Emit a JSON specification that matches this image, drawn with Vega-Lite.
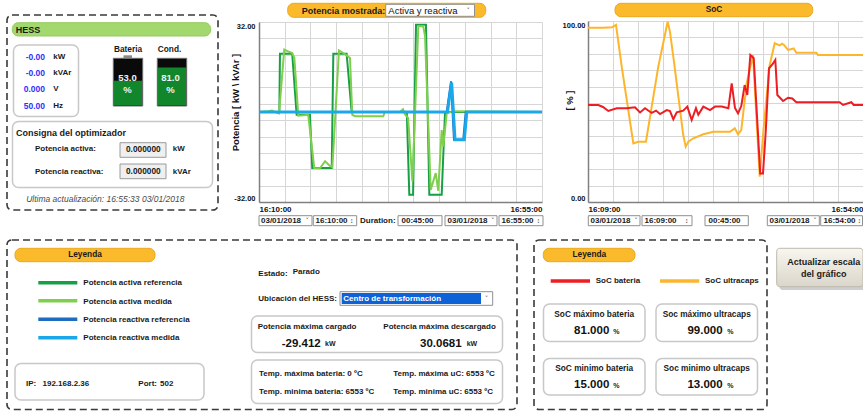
{
  "$schema": "https://vega.github.io/schema/vega-lite/v6.json",
  "width": 863,
  "height": 411,
  "padding": 0,
  "autosize": {"type": "none"},
  "background": "#ffffff",
  "config": {"view": {"stroke": null}, "font": "Liberation Sans"},
  "datasets": {
    "potencia": [
      {"series": "Potencia activa referencia", "time": "2018-01-03T16:10:00", "value": 0},
      {"series": "Potencia activa referencia", "time": "2018-01-03T16:13:14", "value": 0},
      {"series": "Potencia activa referencia", "time": "2018-01-03T16:13:20", "value": 20.7},
      {"series": "Potencia activa referencia", "time": "2018-01-03T16:15:17", "value": 20.7},
      {"series": "Potencia activa referencia", "time": "2018-01-03T16:15:59", "value": -1.0},
      {"series": "Potencia activa referencia", "time": "2018-01-03T16:18:06", "value": -1.0},
      {"series": "Potencia activa referencia", "time": "2018-01-03T16:18:28", "value": -19.9},
      {"series": "Potencia activa referencia", "time": "2018-01-03T16:21:34", "value": -19.9},
      {"series": "Potencia activa referencia", "time": "2018-01-03T16:21:49", "value": 20.7},
      {"series": "Potencia activa referencia", "time": "2018-01-03T16:23:56", "value": 20.7},
      {"series": "Potencia activa referencia", "time": "2018-01-03T16:24:44", "value": 0},
      {"series": "Potencia activa referencia", "time": "2018-01-03T16:33:30", "value": 0},
      {"series": "Potencia activa referencia", "time": "2018-01-03T16:33:54", "value": -29.4},
      {"series": "Potencia activa referencia", "time": "2018-01-03T16:34:30", "value": -29.4},
      {"series": "Potencia activa referencia", "time": "2018-01-03T16:34:58", "value": 31.0},
      {"series": "Potencia activa referencia", "time": "2018-01-03T16:36:33", "value": 31.0},
      {"series": "Potencia activa referencia", "time": "2018-01-03T16:37:05", "value": -29.4},
      {"series": "Potencia activa referencia", "time": "2018-01-03T16:39:03", "value": -29.4},
      {"series": "Potencia activa referencia", "time": "2018-01-03T16:39:35", "value": 0},
      {"series": "Potencia activa referencia", "time": "2018-01-03T16:55:00", "value": 0},
      {"series": "Potencia activa medida", "time": "2018-01-03T16:10:00", "value": 0},
      {"series": "Potencia activa medida", "time": "2018-01-03T16:11:26", "value": 0.3},
      {"series": "Potencia activa medida", "time": "2018-01-03T16:12:04", "value": 0.5},
      {"series": "Potencia activa medida", "time": "2018-01-03T16:12:52", "value": -0.3},
      {"series": "Potencia activa medida", "time": "2018-01-03T16:13:11", "value": -0.5},
      {"series": "Potencia activa medida", "time": "2018-01-03T16:14:01", "value": 22.2},
      {"series": "Potencia activa medida", "time": "2018-01-03T16:14:40", "value": 21.5},
      {"series": "Potencia activa medida", "time": "2018-01-03T16:15:15", "value": 21.0},
      {"series": "Potencia activa medida", "time": "2018-01-03T16:15:37", "value": 19.4},
      {"series": "Potencia activa medida", "time": "2018-01-03T16:16:15", "value": -1.3},
      {"series": "Potencia activa medida", "time": "2018-01-03T16:17:50", "value": -1.0},
      {"series": "Potencia activa medida", "time": "2018-01-03T16:18:47", "value": -19.9},
      {"series": "Potencia activa medida", "time": "2018-01-03T16:19:42", "value": -20.0},
      {"series": "Potencia activa medida", "time": "2018-01-03T16:20:30", "value": -17.5},
      {"series": "Potencia activa medida", "time": "2018-01-03T16:21:17", "value": -19.2},
      {"series": "Potencia activa medida", "time": "2018-01-03T16:21:40", "value": -19.6},
      {"series": "Potencia activa medida", "time": "2018-01-03T16:22:43", "value": 21.9},
      {"series": "Potencia activa medida", "time": "2018-01-03T16:23:31", "value": 20.8},
      {"series": "Potencia activa medida", "time": "2018-01-03T16:24:28", "value": 19.2},
      {"series": "Potencia activa medida", "time": "2018-01-03T16:24:50", "value": -1.0},
      {"series": "Potencia activa medida", "time": "2018-01-03T16:25:16", "value": -1.5},
      {"series": "Potencia activa medida", "time": "2018-01-03T16:29:46", "value": -1.5},
      {"series": "Potencia activa medida", "time": "2018-01-03T16:30:00", "value": 0},
      {"series": "Potencia activa medida", "time": "2018-01-03T16:32:25", "value": 0},
      {"series": "Potencia activa medida", "time": "2018-01-03T16:32:54", "value": 1.0},
      {"series": "Potencia activa medida", "time": "2018-01-03T16:33:12", "value": -0.8},
      {"series": "Potencia activa medida", "time": "2018-01-03T16:33:42", "value": -2.1},
      {"series": "Potencia activa medida", "time": "2018-01-03T16:34:24", "value": -24.7},
      {"series": "Potencia activa medida", "time": "2018-01-03T16:35:20", "value": 30.5},
      {"series": "Potencia activa medida", "time": "2018-01-03T16:36:07", "value": 30.5},
      {"series": "Potencia activa medida", "time": "2018-01-03T16:36:24", "value": 27.0},
      {"series": "Potencia activa medida", "time": "2018-01-03T16:37:18", "value": -27.7},
      {"series": "Potencia activa medida", "time": "2018-01-03T16:38:06", "value": -21.7},
      {"series": "Potencia activa medida", "time": "2018-01-03T16:38:30", "value": -28.0},
      {"series": "Potencia activa medida", "time": "2018-01-03T16:39:03", "value": -6.4},
      {"series": "Potencia activa medida", "time": "2018-01-03T16:39:18", "value": -12.3},
      {"series": "Potencia activa medida", "time": "2018-01-03T16:39:51", "value": -0.5},
      {"series": "Potencia activa medida", "time": "2018-01-03T16:41:00", "value": 0.3},
      {"series": "Potencia activa medida", "time": "2018-01-03T16:55:00", "value": 0},
      {"series": "Potencia reactiva referencia", "time": "2018-01-03T16:10:00", "value": 0},
      {"series": "Potencia reactiva referencia", "time": "2018-01-03T16:39:51", "value": 0},
      {"series": "Potencia reactiva referencia", "time": "2018-01-03T16:40:32", "value": 10.9},
      {"series": "Potencia reactiva referencia", "time": "2018-01-03T16:41:00", "value": -9.85},
      {"series": "Potencia reactiva referencia", "time": "2018-01-03T16:42:29", "value": -9.85},
      {"series": "Potencia reactiva referencia", "time": "2018-01-03T16:42:52", "value": 0},
      {"series": "Potencia reactiva referencia", "time": "2018-01-03T16:55:00", "value": 0},
      {"series": "Potencia reactiva medida", "time": "2018-01-03T16:10:00", "value": 0},
      {"series": "Potencia reactiva medida", "time": "2018-01-03T16:39:58", "value": 0},
      {"series": "Potencia reactiva medida", "time": "2018-01-03T16:40:38", "value": 10.5},
      {"series": "Potencia reactiva medida", "time": "2018-01-03T16:41:10", "value": -9.85},
      {"series": "Potencia reactiva medida", "time": "2018-01-03T16:42:39", "value": -9.85},
      {"series": "Potencia reactiva medida", "time": "2018-01-03T16:43:02", "value": 0},
      {"series": "Potencia reactiva medida", "time": "2018-01-03T16:55:00", "value": 0}
    ],
    "soc": [
      {"series": "SoC ultracaps", "time": "2018-01-03T16:09:00", "soc": 96.3},
      {"series": "SoC ultracaps", "time": "2018-01-03T16:11:27", "soc": 96.3},
      {"series": "SoC ultracaps", "time": "2018-01-03T16:12:56", "soc": 96.5},
      {"series": "SoC ultracaps", "time": "2018-01-03T16:13:35", "soc": 97.8},
      {"series": "SoC ultracaps", "time": "2018-01-03T16:14:31", "soc": 74.8},
      {"series": "SoC ultracaps", "time": "2018-01-03T16:16:25", "soc": 32.4},
      {"series": "SoC ultracaps", "time": "2018-01-03T16:17:14", "soc": 33.3},
      {"series": "SoC ultracaps", "time": "2018-01-03T16:18:29", "soc": 33.3},
      {"series": "SoC ultracaps", "time": "2018-01-03T16:20:30", "soc": 74.8},
      {"series": "SoC ultracaps", "time": "2018-01-03T16:22:02", "soc": 99.6},
      {"series": "SoC ultracaps", "time": "2018-01-03T16:22:25", "soc": 94.0},
      {"series": "SoC ultracaps", "time": "2018-01-03T16:23:04", "soc": 77.5},
      {"series": "SoC ultracaps", "time": "2018-01-03T16:24:35", "soc": 37.0},
      {"series": "SoC ultracaps", "time": "2018-01-03T16:24:59", "soc": 30.6},
      {"series": "SoC ultracaps", "time": "2018-01-03T16:25:25", "soc": 33.3},
      {"series": "SoC ultracaps", "time": "2018-01-03T16:26:14", "soc": 35.2},
      {"series": "SoC ultracaps", "time": "2018-01-03T16:27:52", "soc": 37.4},
      {"series": "SoC ultracaps", "time": "2018-01-03T16:29:30", "soc": 38.8},
      {"series": "SoC ultracaps", "time": "2018-01-03T16:32:14", "soc": 38.8},
      {"series": "SoC ultracaps", "time": "2018-01-03T16:33:01", "soc": 40.7},
      {"series": "SoC ultracaps", "time": "2018-01-03T16:33:33", "soc": 37.4},
      {"series": "SoC ultracaps", "time": "2018-01-03T16:34:05", "soc": 39.8},
      {"series": "SoC ultracaps", "time": "2018-01-03T16:34:58", "soc": 65.6},
      {"series": "SoC ultracaps", "time": "2018-01-03T16:36:00", "soc": 81.2},
      {"series": "SoC ultracaps", "time": "2018-01-03T16:37:06", "soc": 14.0},
      {"series": "SoC ultracaps", "time": "2018-01-03T16:37:43", "soc": 40.0},
      {"series": "SoC ultracaps", "time": "2018-01-03T16:38:44", "soc": 75.7},
      {"series": "SoC ultracaps", "time": "2018-01-03T16:39:33", "soc": 87.7},
      {"series": "SoC ultracaps", "time": "2018-01-03T16:40:22", "soc": 86.5},
      {"series": "SoC ultracaps", "time": "2018-01-03T16:40:45", "soc": 87.5},
      {"series": "SoC ultracaps", "time": "2018-01-03T16:41:04", "soc": 86.8},
      {"series": "SoC ultracaps", "time": "2018-01-03T16:41:44", "soc": 84.0},
      {"series": "SoC ultracaps", "time": "2018-01-03T16:42:40", "soc": 84.8},
      {"series": "SoC ultracaps", "time": "2018-01-03T16:43:05", "soc": 82.5},
      {"series": "SoC ultracaps", "time": "2018-01-03T16:46:22", "soc": 82.5},
      {"series": "SoC ultracaps", "time": "2018-01-03T16:46:38", "soc": 81.2},
      {"series": "SoC ultracaps", "time": "2018-01-03T16:54:00", "soc": 81.2},
      {"series": "SoC bateria", "time": "2018-01-03T16:09:00", "soc": 53.6},
      {"series": "SoC bateria", "time": "2018-01-03T16:10:41", "soc": 53.6},
      {"series": "SoC bateria", "time": "2018-01-03T16:11:27", "soc": 52.5},
      {"series": "SoC bateria", "time": "2018-01-03T16:12:19", "soc": 50.3},
      {"series": "SoC bateria", "time": "2018-01-03T16:13:42", "soc": 51.8},
      {"series": "SoC bateria", "time": "2018-01-03T16:15:20", "soc": 51.8},
      {"series": "SoC bateria", "time": "2018-01-03T16:16:41", "soc": 52.3},
      {"series": "SoC bateria", "time": "2018-01-03T16:17:31", "soc": 49.5},
      {"series": "SoC bateria", "time": "2018-01-03T16:18:20", "soc": 51.8},
      {"series": "SoC bateria", "time": "2018-01-03T16:19:25", "soc": 49.2},
      {"series": "SoC bateria", "time": "2018-01-03T16:20:08", "soc": 50.5},
      {"series": "SoC bateria", "time": "2018-01-03T16:20:47", "soc": 48.6},
      {"series": "SoC bateria", "time": "2018-01-03T16:21:53", "soc": 50.8},
      {"series": "SoC bateria", "time": "2018-01-03T16:22:25", "soc": 50.2},
      {"series": "SoC bateria", "time": "2018-01-03T16:22:58", "soc": 45.7},
      {"series": "SoC bateria", "time": "2018-01-03T16:23:31", "soc": 49.5},
      {"series": "SoC bateria", "time": "2018-01-03T16:24:35", "soc": 50.5},
      {"series": "SoC bateria", "time": "2018-01-03T16:25:15", "soc": 52.7},
      {"series": "SoC bateria", "time": "2018-01-03T16:25:58", "soc": 45.3},
      {"series": "SoC bateria", "time": "2018-01-03T16:26:40", "soc": 51.8},
      {"series": "SoC bateria", "time": "2018-01-03T16:27:03", "soc": 48.2},
      {"series": "SoC bateria", "time": "2018-01-03T16:27:52", "soc": 52.7},
      {"series": "SoC bateria", "time": "2018-01-03T16:28:58", "soc": 50.8},
      {"series": "SoC bateria", "time": "2018-01-03T16:29:47", "soc": 52.7},
      {"series": "SoC bateria", "time": "2018-01-03T16:30:53", "soc": 52.7},
      {"series": "SoC bateria", "time": "2018-01-03T16:31:58", "soc": 51.8},
      {"series": "SoC bateria", "time": "2018-01-03T16:32:31", "soc": 65.6},
      {"series": "SoC bateria", "time": "2018-01-03T16:33:03", "soc": 52.0},
      {"series": "SoC bateria", "time": "2018-01-03T16:33:33", "soc": 49.0},
      {"series": "SoC bateria", "time": "2018-01-03T16:34:05", "soc": 53.0},
      {"series": "SoC bateria", "time": "2018-01-03T16:34:38", "soc": 64.6},
      {"series": "SoC bateria", "time": "2018-01-03T16:35:04", "soc": 59.1},
      {"series": "SoC bateria", "time": "2018-01-03T16:35:34", "soc": 81.2},
      {"series": "SoC bateria", "time": "2018-01-03T16:36:07", "soc": 79.4},
      {"series": "SoC bateria", "time": "2018-01-03T16:37:11", "soc": 15.8},
      {"series": "SoC bateria", "time": "2018-01-03T16:37:38", "soc": 15.8},
      {"series": "SoC bateria", "time": "2018-01-03T16:38:05", "soc": 38.8},
      {"series": "SoC bateria", "time": "2018-01-03T16:38:37", "soc": 73.9},
      {"series": "SoC bateria", "time": "2018-01-03T16:39:10", "soc": 76.0},
      {"series": "SoC bateria", "time": "2018-01-03T16:39:39", "soc": 78.5},
      {"series": "SoC bateria", "time": "2018-01-03T16:39:59", "soc": 59.1},
      {"series": "SoC bateria", "time": "2018-01-03T16:40:55", "soc": 55.8},
      {"series": "SoC bateria", "time": "2018-01-03T16:41:44", "soc": 57.6},
      {"series": "SoC bateria", "time": "2018-01-03T16:42:26", "soc": 57.2},
      {"series": "SoC bateria", "time": "2018-01-03T16:43:05", "soc": 55.1},
      {"series": "SoC bateria", "time": "2018-01-03T16:50:11", "soc": 55.1},
      {"series": "SoC bateria", "time": "2018-01-03T16:50:44", "soc": 53.6},
      {"series": "SoC bateria", "time": "2018-01-03T16:52:05", "soc": 55.1},
      {"series": "SoC bateria", "time": "2018-01-03T16:52:29", "soc": 53.6},
      {"series": "SoC bateria", "time": "2018-01-03T16:54:00", "soc": 53.6}
    ],
    "legend_lines": [
      {"series": "Potencia activa referencia", "x": 38.3, "x2": 77.3, "y": 282.7},
      {"series": "Potencia activa medida", "x": 38.3, "x2": 77.3, "y": 300.7},
      {"series": "Potencia reactiva referencia", "x": 38.3, "x2": 77.3, "y": 319.3},
      {"series": "Potencia reactiva medida", "x": 38.3, "x2": 77.3, "y": 337.7},
      {"series": "SoC bateria", "x": 550.7, "x2": 590, "y": 281},
      {"series": "SoC ultracaps", "x": 660, "x2": 699.3, "y": 281}
    ],
    "dashed_frames": [
      {"x": 7, "x2": 218, "y": 15, "y2": 210},
      {"x": 7, "x2": 517, "y": 240, "y2": 409.5},
      {"x": 534, "x2": 767, "y": 240, "y2": 409.5}
    ],
    "round_boxes": [
      {"x": 13.5, "x2": 78.5, "y": 45, "y2": 116.5},
      {"x": 12.5, "x2": 212.5, "y": 121.5, "y2": 187.5},
      {"x": 15, "x2": 204, "y": 363.5, "y2": 400},
      {"x": 251.5, "x2": 502.5, "y": 316, "y2": 352.5},
      {"x": 251.5, "x2": 502.5, "y": 360, "y2": 403.5},
      {"x": 543.5, "x2": 645, "y": 304, "y2": 341.5},
      {"x": 656, "x2": 757.5, "y": 304, "y2": 341.5},
      {"x": 543.5, "x2": 645, "y": 358.5, "y2": 395},
      {"x": 656, "x2": 757.5, "y": 358.5, "y2": 395}
    ],
    "orange_pills": [
      {"x": 287.7, "x2": 485.7, "y": 3.3, "y2": 17.3},
      {"x": 615, "x2": 812.7, "y": 3.3, "y2": 16.7},
      {"x": 15, "x2": 155, "y": 248.3, "y2": 261.7},
      {"x": 543.3, "x2": 635, "y": 248.3, "y2": 261.7}
    ],
    "green_pills": [
      {"x": 12.3, "x2": 210.7, "y": 22.7, "y2": 36}
    ],
    "gray_fields": [
      {"x": 120, "x2": 166, "y": 142.7, "y2": 157.3},
      {"x": 120, "x2": 166, "y": 164, "y2": 178.7}
    ],
    "white_fields": [
      {"x": 385.7, "x2": 474.5, "y": 4.3, "y2": 16.3},
      {"x": 340, "x2": 492.7, "y": 291.7, "y2": 305.3},
      {"x": 259, "x2": 312, "y": 215.7, "y2": 225.7},
      {"x": 313.3, "x2": 356.7, "y": 215.7, "y2": 225.7},
      {"x": 398, "x2": 442, "y": 215.7, "y2": 225.7},
      {"x": 445, "x2": 497, "y": 215.7, "y2": 225.7},
      {"x": 499, "x2": 543, "y": 215.7, "y2": 225.7},
      {"x": 588.3, "x2": 640, "y": 215.7, "y2": 225.7},
      {"x": 642, "x2": 692, "y": 215.7, "y2": 225.7},
      {"x": 705, "x2": 748.3, "y": 215.7, "y2": 225.7},
      {"x": 767.3, "x2": 819.3, "y": 215.7, "y2": 225.7},
      {"x": 820.7, "x2": 862.5, "y": 215.7, "y2": 225.7}
    ],
    "selection_fill": [
      {"x": 341.7, "x2": 481, "y": 293, "y2": 304}
    ],
    "battery_case": [
      {"x": 113.3, "x2": 142.7, "y": 58.3, "y2": 106},
      {"x": 157.3, "x2": 186.7, "y": 58.3, "y2": 106}
    ],
    "battery_charge": [
      {"x": 114, "x2": 142, "y": 80.7, "y2": 105.3},
      {"x": 158, "x2": 186, "y": 67.4, "y2": 105.3}
    ],
    "battery_cap": [
      {"x": 123.5, "x2": 132, "y": 55.3, "y2": 58.3}
    ],
    "button_shadow": [
      {"x": 779.5, "x2": 866, "y": 251, "y2": 290}
    ],
    "button": [
      {"x": 776.7, "x2": 863, "y": 248.3, "y2": 286.7}
    ],
    "labels_bold8": [
      {"text": "kW", "x": 53.3, "y": 57},
      {"text": "kVAr", "x": 53.3, "y": 72.5},
      {"text": "V", "x": 53.3, "y": 89.3},
      {"text": "Hz", "x": 53.3, "y": 106},
      {"text": "Potencia activa:", "x": 35, "y": 149.3},
      {"text": "Potencia reactiva:", "x": 35, "y": 171.7},
      {"text": "kW", "x": 172.7, "y": 149.3},
      {"text": "kVAr", "x": 172.7, "y": 171.7},
      {"text": "Potencia activa referencia", "x": 83.3, "y": 283.3},
      {"text": "Potencia activa medida", "x": 83.3, "y": 301.5},
      {"text": "Potencia reactiva referencia", "x": 83.3, "y": 320},
      {"text": "Potencia reactiva medida", "x": 83.3, "y": 338.3},
      {"text": "IP:", "x": 26, "y": 383.5},
      {"text": "192.168.2.36", "x": 42.5, "y": 383.5},
      {"text": "Port:", "x": 138.3, "y": 383.5},
      {"text": "502", "x": 160, "y": 383.5},
      {"text": "Estado:", "x": 258.3, "y": 273.5},
      {"text": "Parado", "x": 292.7, "y": 272.3},
      {"text": "Ubicación del HESS:", "x": 258.3, "y": 298.5},
      {"text": "Potencia máxima cargado", "x": 257.7, "y": 326.7},
      {"text": "Potencia máxima descargado", "x": 383.3, "y": 326.7},
      {"text": "Temp. máxima bateria: 0 ºC", "x": 259, "y": 374.3},
      {"text": "Temp. máxima uC: 6553 ºC", "x": 393.3, "y": 374.3},
      {"text": "Temp. minima bateria:  6553 ºC", "x": 259, "y": 392.3},
      {"text": "Temp. minima uC: 6553 ºC", "x": 393.3, "y": 392.3},
      {"text": "SoC bateria", "x": 595.7, "y": 281.3},
      {"text": "SoC ultracaps", "x": 705, "y": 281.3},
      {"text": "03/01/2018", "x": 261, "y": 220.8},
      {"text": "16:10:00", "x": 315.5, "y": 220.8},
      {"text": "Duration:", "x": 360, "y": 220.8},
      {"text": "00:45:00", "x": 401.5, "y": 220.8},
      {"text": "03/01/2018", "x": 447.5, "y": 220.8},
      {"text": "16:55:00", "x": 501.5, "y": 220.8},
      {"text": "03/01/2018", "x": 590.5, "y": 220.8},
      {"text": "16:09:00", "x": 644.5, "y": 220.8},
      {"text": "00:45:00", "x": 708.5, "y": 220.8},
      {"text": "03/01/2018", "x": 769.5, "y": 220.8},
      {"text": "16:54:00", "x": 823.5, "y": 220.8}
    ],
    "labels_bold9": [
      {"text": "HESS", "x": 15.7, "y": 29.5},
      {"text": "Consigna del optimizador", "x": 16, "y": 132.7},
      {"text": "Potencia mostrada:", "x": 301.7, "y": 10.5}
    ],
    "labels_regular": [
      {"text": "Activa y reactiva", "x": 388.3, "y": 10.5}
    ],
    "labels_white_left": [
      {"text": "Centro de transformación", "x": 343.3, "y": 298.5}
    ],
    "labels_blue": [
      {"text": "-0.00", "x": 45, "y": 57},
      {"text": "-0.00", "x": 45, "y": 72.5},
      {"text": "0.000", "x": 45, "y": 89.3},
      {"text": "50.00", "x": 45, "y": 106}
    ],
    "labels_center8": [
      {"text": "Bateria", "x": 128, "y": 50},
      {"text": "Cond.", "x": 169.5, "y": 50},
      {"text": "Leyenda", "x": 85, "y": 255.2},
      {"text": "Leyenda", "x": 589.3, "y": 255.2},
      {"text": "SoC", "x": 714, "y": 10.3},
      {"text": "SoC máximo bateria", "x": 594.2, "y": 315},
      {"text": "Soc máximo ultracaps", "x": 706.7, "y": 315},
      {"text": "SoC minimo bateria", "x": 594.2, "y": 368.5},
      {"text": "Soc minimo ultracaps", "x": 706.7, "y": 368.5},
      {"text": "0.000000", "x": 143.3, "y": 150},
      {"text": "0.000000", "x": 143.3, "y": 171.5}
    ],
    "labels_button": [
      {"text": "Actualizar escala", "x": 823.7, "y": 262.3},
      {"text": "del gráfico", "x": 823.7, "y": 273.5}
    ],
    "labels_white_center": [
      {"text": "53.0", "x": 127.5, "y": 77.5},
      {"text": "%", "x": 127.5, "y": 90},
      {"text": "81.0", "x": 170.5, "y": 77.5},
      {"text": "%", "x": 170.5, "y": 90}
    ],
    "labels_big": [
      {"text": "-29.412", "x": 301.2, "y": 343.5},
      {"text": "30.0681", "x": 440.8, "y": 343.5},
      {"text": "81.000", "x": 591.7, "y": 330.8},
      {"text": "99.000", "x": 705, "y": 330.8},
      {"text": "15.000", "x": 591.7, "y": 385},
      {"text": "13.000", "x": 705, "y": 385}
    ],
    "labels_units_small": [
      {"text": "kW", "x": 325, "y": 344.3},
      {"text": "kW", "x": 466.7, "y": 344.3},
      {"text": "%", "x": 613.3, "y": 331.5},
      {"text": "%", "x": 727.3, "y": 331.5},
      {"text": "%", "x": 613.3, "y": 385.7},
      {"text": "%", "x": 727.3, "y": 385.7}
    ],
    "labels_italic": [
      {"text": "Ultima actualización: 16:55:33 03/01/2018", "x": 105.3, "y": 199}
    ],
    "glyphs": [
      {"text": "˅", "x": 307.3, "y": 221},
      {"text": "˅", "x": 492.7, "y": 221},
      {"text": "˅", "x": 636, "y": 221},
      {"text": "˅", "x": 815, "y": 221},
      {"text": "˅", "x": 468.3, "y": 10.8},
      {"text": "˅", "x": 486.5, "y": 298.8},
      {"text": ":", "x": 351.7, "y": 220.5},
      {"text": ":", "x": 538.3, "y": 220.5},
      {"text": ":", "x": 686.7, "y": 220.5},
      {"text": ":", "x": 859.5, "y": 220.5}
    ]
  },
  "resolve": {"scale": {"x": "independent", "y": "independent"}},
  "layer": [
    {
      "encoding": {
        "x": {"field": "x", "type": "quantitative", "scale": {"domain": [0, 863], "nice": false, "zero": false}, "axis": null},
        "y": {"field": "y", "type": "quantitative", "scale": {"domain": [0, 411], "reverse": true, "nice": false, "zero": false}, "axis": null}
      },
      "layer": [
        {"data": {"name": "dashed_frames"}, "mark": {"type": "rect", "filled": false, "color": "#3a3a3a", "strokeWidth": 1.6, "strokeDash": [7, 4], "cornerRadius": 5}, "encoding": {"x2": {"field": "x2"}, "y2": {"field": "y2"}}},
        {"data": {"name": "round_boxes"}, "mark": {"type": "rect", "fill": "#ffffff", "stroke": "#c8c8c8", "strokeWidth": 1.5, "cornerRadius": 6}, "encoding": {"x2": {"field": "x2"}, "y2": {"field": "y2"}}},
        {"data": {"name": "orange_pills"}, "mark": {"type": "rect", "fill": "#fbb92c", "stroke": "#eaa81c", "strokeWidth": 1, "cornerRadius": 6}, "encoding": {"x2": {"field": "x2"}, "y2": {"field": "y2"}}},
        {"data": {"name": "green_pills"}, "mark": {"type": "rect", "fill": "#a3d86f", "stroke": "#93ca60", "strokeWidth": 1, "cornerRadius": 6}, "encoding": {"x2": {"field": "x2"}, "y2": {"field": "y2"}}},
        {"data": {"name": "gray_fields"}, "mark": {"type": "rect", "fill": "#efefef", "stroke": "#9a9a9a", "strokeWidth": 1}, "encoding": {"x2": {"field": "x2"}, "y2": {"field": "y2"}}},
        {"data": {"name": "white_fields"}, "mark": {"type": "rect", "fill": "#ffffff", "stroke": "#8f8f8f", "strokeWidth": 1}, "encoding": {"x2": {"field": "x2"}, "y2": {"field": "y2"}}},
        {"data": {"name": "selection_fill"}, "mark": {"type": "rect", "fill": "#0d62d8"}, "encoding": {"x2": {"field": "x2"}, "y2": {"field": "y2"}}},
        {"data": {"name": "battery_case"}, "mark": {"type": "rect", "fill": "#0a0a0a", "stroke": "#6d6d6d", "strokeWidth": 1}, "encoding": {"x2": {"field": "x2"}, "y2": {"field": "y2"}}},
        {"data": {"name": "battery_charge"}, "mark": {"type": "rect", "fill": "#11862a"}, "encoding": {"x2": {"field": "x2"}, "y2": {"field": "y2"}}},
        {"data": {"name": "battery_cap"}, "mark": {"type": "rect", "fill": "#8a8a8a"}, "encoding": {"x2": {"field": "x2"}, "y2": {"field": "y2"}}},
        {"data": {"name": "button_shadow"}, "mark": {"type": "rect", "fill": "#b9b9b9", "opacity": 0.7, "cornerRadius": 3}, "encoding": {"x2": {"field": "x2"}, "y2": {"field": "y2"}}},
        {"data": {"name": "button"}, "mark": {"type": "rect", "cornerRadius": 3, "stroke": "#bdb9ae", "strokeWidth": 1, "fill": {"gradient": "linear", "x1": 0, "y1": 0, "x2": 0, "y2": 1, "stops": [{"offset": 0, "color": "#f8f6ef"}, {"offset": 1, "color": "#dad6ca"}]}}, "encoding": {"x2": {"field": "x2"}, "y2": {"field": "y2"}}},
        {"data": {"name": "legend_lines"}, "mark": {"type": "rule", "strokeWidth": 3.5, "strokeCap": "butt"}, "encoding": {"x2": {"field": "x2"}, "color": {"field": "series", "type": "nominal", "scale": {"domain": ["Potencia activa referencia", "Potencia activa medida", "Potencia reactiva referencia", "Potencia reactiva medida", "SoC bateria", "SoC ultracaps"], "range": ["#16a045", "#80cf4c", "#1d6cc2", "#1aa8ea", "#ee1d23", "#fdb62c"]}, "legend": null}}},
        {"data": {"name": "labels_bold8"}, "mark": {"type": "text", "align": "left", "baseline": "middle", "font": "Liberation Sans", "fontSize": 8, "fontWeight": "bold", "color": "#1a1a1a"}, "encoding": {"text": {"field": "text"}}},
        {"data": {"name": "labels_bold9"}, "mark": {"type": "text", "align": "left", "baseline": "middle", "font": "Liberation Sans", "fontSize": 9, "fontWeight": "bold", "color": "#1a1a1a"}, "encoding": {"text": {"field": "text"}}},
        {"data": {"name": "labels_regular"}, "mark": {"type": "text", "align": "left", "baseline": "middle", "font": "Liberation Sans", "fontSize": 9.5, "fontWeight": "normal", "color": "#111111"}, "encoding": {"text": {"field": "text"}}},
        {"data": {"name": "labels_white_left"}, "mark": {"type": "text", "align": "left", "baseline": "middle", "font": "Liberation Sans", "fontSize": 8, "fontWeight": "bold", "color": "#ffffff"}, "encoding": {"text": {"field": "text"}}},
        {"data": {"name": "labels_blue"}, "mark": {"type": "text", "align": "right", "baseline": "middle", "font": "Liberation Sans", "fontSize": 8.5, "fontWeight": "bold", "color": "#2f2fff"}, "encoding": {"text": {"field": "text"}}},
        {"data": {"name": "labels_center8"}, "mark": {"type": "text", "align": "center", "baseline": "middle", "font": "Liberation Sans", "fontSize": 8.3, "fontWeight": "bold", "color": "#1a1a1a"}, "encoding": {"text": {"field": "text"}}},
        {"data": {"name": "labels_button"}, "mark": {"type": "text", "align": "center", "baseline": "middle", "font": "Liberation Sans", "fontSize": 9, "fontWeight": "bold", "color": "#1a1a1a"}, "encoding": {"text": {"field": "text"}}},
        {"data": {"name": "labels_white_center"}, "mark": {"type": "text", "align": "center", "baseline": "middle", "font": "Liberation Sans", "fontSize": 9.5, "fontWeight": "bold", "color": "#f2f2f2"}, "encoding": {"text": {"field": "text"}}},
        {"data": {"name": "labels_big"}, "mark": {"type": "text", "align": "center", "baseline": "middle", "font": "Liberation Sans", "fontSize": 11.5, "fontWeight": "bold", "color": "#111111"}, "encoding": {"text": {"field": "text"}}},
        {"data": {"name": "labels_units_small"}, "mark": {"type": "text", "align": "left", "baseline": "middle", "font": "Liberation Sans", "fontSize": 7, "fontWeight": "bold", "color": "#1a1a1a"}, "encoding": {"text": {"field": "text"}}},
        {"data": {"name": "labels_italic"}, "mark": {"type": "text", "align": "center", "baseline": "middle", "font": "Liberation Sans", "fontSize": 8.5, "fontStyle": "italic", "color": "#4a4a4a"}, "encoding": {"text": {"field": "text"}}},
        {"data": {"name": "glyphs"}, "mark": {"type": "text", "align": "center", "baseline": "middle", "font": "DejaVu Sans", "fontSize": 7, "fontWeight": "bold", "color": "#777777"}, "encoding": {"text": {"field": "text"}}}
      ]
    },
    {
      "data": {"name": "potencia"},
      "encoding": {
        "x": {
          "field": "time", "type": "temporal",
          "scale": {"domain": [{"year": 2018, "month": 1, "date": 3, "hours": 16, "minutes": 10}, {"year": 2018, "month": 1, "date": 3, "hours": 16, "minutes": 55}], "range": [259, 542], "nice": false},
          "axis": {
            "orient": "bottom", "offset": -209,
            "values": [
              {"year": 2018, "month": 1, "date": 3, "hours": 16, "minutes": 10, "seconds": 0},
              {"year": 2018, "month": 1, "date": 3, "hours": 16, "minutes": 14, "seconds": 5, "milliseconds": 455},
              {"year": 2018, "month": 1, "date": 3, "hours": 16, "minutes": 18, "seconds": 10, "milliseconds": 909},
              {"year": 2018, "month": 1, "date": 3, "hours": 16, "minutes": 22, "seconds": 16, "milliseconds": 364},
              {"year": 2018, "month": 1, "date": 3, "hours": 16, "minutes": 26, "seconds": 21, "milliseconds": 818},
              {"year": 2018, "month": 1, "date": 3, "hours": 16, "minutes": 30, "seconds": 27, "milliseconds": 273},
              {"year": 2018, "month": 1, "date": 3, "hours": 16, "minutes": 34, "seconds": 32, "milliseconds": 727},
              {"year": 2018, "month": 1, "date": 3, "hours": 16, "minutes": 38, "seconds": 38, "milliseconds": 182},
              {"year": 2018, "month": 1, "date": 3, "hours": 16, "minutes": 42, "seconds": 43, "milliseconds": 636},
              {"year": 2018, "month": 1, "date": 3, "hours": 16, "minutes": 46, "seconds": 49, "milliseconds": 91},
              {"year": 2018, "month": 1, "date": 3, "hours": 16, "minutes": 50, "seconds": 54, "milliseconds": 545},
              {"year": 2018, "month": 1, "date": 3, "hours": 16, "minutes": 55, "seconds": 0}
            ],
            "grid": false,
            "ticks": true, "tickSize": -180, "tickColor": "#d6d6d6", "tickWidth": 1,
            "domainColor": "#808080", "domainWidth": 1.5,
            "labelExpr": "datum.index == 0 || datum.index == 1 ? timeFormat(datum.value, '%H:%M:%S') : ''",
            "labelFlush": true, "labelOverlap": false, "labelBound": false, "labelPadding": 183,
            "labelFont": "Liberation Sans", "labelFontSize": 8, "labelFontWeight": "bold", "labelColor": "#111111",
            "title": null
          }
        },
        "y": {
          "field": "value", "type": "quantitative",
          "scale": {"domain": [-32, 32], "range": [202, 22], "nice": false, "zero": false},
          "axis": {
            "orient": "left", "offset": -259,
            "values": [-32, -26.1818, -20.3636, -14.5455, -8.7273, -2.9091, 2.9091, 8.7273, 14.5455, 20.3636, 26.1818, 32],
            "grid": true, "gridColor": "#d6d6d6", "gridWidth": 1,
            "ticks": false, "tickSize": 0,
            "domainColor": "#808080", "domainWidth": 1.5,
            "labelExpr": "datum.index == 0 || datum.index == 1 ? (datum.value < 0 ? '-' : '') + format(abs(datum.value), '.2f') : ''",
            "labelFlush": true, "labelOverlap": false, "labelBound": false, "labelPadding": 4,
            "labelFont": "Liberation Sans", "labelFontSize": 7.5, "labelFontWeight": "bold", "labelColor": "#111111",
            "title": "Potencia [ kW \\ kVAr ]", "titleX": -24, "titleY": 102, "titleAngle": -90, "titleAlign": "center", "titleBaseline": "middle",
            "titleFont": "Liberation Sans", "titleFontSize": 9.5, "titleFontWeight": "bold", "titleColor": "#111111"
          }
        },
        "color": {"field": "series", "type": "nominal", "scale": {"domain": ["Potencia activa referencia", "Potencia activa medida", "Potencia reactiva referencia", "Potencia reactiva medida", "SoC bateria", "SoC ultracaps"], "range": ["#16a045", "#80cf4c", "#1d6cc2", "#1aa8ea", "#ee1d23", "#fdb62c"]}, "legend": null}
      },
      "layer": [
        {"transform": [{"filter": "datum.series != 'Potencia reactiva medida'"}], "mark": {"type": "line", "strokeWidth": 2}},
        {"transform": [{"filter": "datum.series == 'Potencia reactiva medida'"}], "mark": {"type": "line", "strokeWidth": 3}}
      ]
    },
    {
      "data": {"name": "soc"},
      "encoding": {
        "x": {
          "field": "time", "type": "temporal",
          "scale": {"domain": [{"year": 2018, "month": 1, "date": 3, "hours": 16, "minutes": 9}, {"year": 2018, "month": 1, "date": 3, "hours": 16, "minutes": 54}], "range": [588, 863], "nice": false},
          "axis": {
            "orient": "bottom", "offset": -209,
            "values": [
              {"year": 2018, "month": 1, "date": 3, "hours": 16, "minutes": 9, "seconds": 0},
              {"year": 2018, "month": 1, "date": 3, "hours": 16, "minutes": 13, "seconds": 5, "milliseconds": 455},
              {"year": 2018, "month": 1, "date": 3, "hours": 16, "minutes": 17, "seconds": 10, "milliseconds": 909},
              {"year": 2018, "month": 1, "date": 3, "hours": 16, "minutes": 21, "seconds": 16, "milliseconds": 364},
              {"year": 2018, "month": 1, "date": 3, "hours": 16, "minutes": 25, "seconds": 21, "milliseconds": 818},
              {"year": 2018, "month": 1, "date": 3, "hours": 16, "minutes": 29, "seconds": 27, "milliseconds": 273},
              {"year": 2018, "month": 1, "date": 3, "hours": 16, "minutes": 33, "seconds": 32, "milliseconds": 727},
              {"year": 2018, "month": 1, "date": 3, "hours": 16, "minutes": 37, "seconds": 38, "milliseconds": 182},
              {"year": 2018, "month": 1, "date": 3, "hours": 16, "minutes": 41, "seconds": 43, "milliseconds": 636},
              {"year": 2018, "month": 1, "date": 3, "hours": 16, "minutes": 45, "seconds": 49, "milliseconds": 91},
              {"year": 2018, "month": 1, "date": 3, "hours": 16, "minutes": 49, "seconds": 54, "milliseconds": 545},
              {"year": 2018, "month": 1, "date": 3, "hours": 16, "minutes": 54, "seconds": 0}
            ],
            "grid": false,
            "ticks": true, "tickSize": -181, "tickColor": "#d6d6d6", "tickWidth": 1,
            "domainColor": "#808080", "domainWidth": 1.5,
            "labelExpr": "datum.index == 0 || datum.index == 1 ? timeFormat(datum.value, '%H:%M:%S') : ''",
            "labelFlush": true, "labelOverlap": false, "labelBound": false, "labelPadding": 184,
            "labelFont": "Liberation Sans", "labelFontSize": 8, "labelFontWeight": "bold", "labelColor": "#111111",
            "title": null
          }
        },
        "y": {
          "field": "soc", "type": "quantitative",
          "scale": {"domain": [0, 100], "range": [202, 21], "nice": false, "zero": false},
          "axis": {
            "orient": "left", "offset": -588,
            "values": [0, 9.0909, 18.1818, 27.2727, 36.3636, 45.4545, 54.5455, 63.6364, 72.7273, 81.8182, 90.9091, 100],
            "grid": true, "gridColor": "#d6d6d6", "gridWidth": 1,
            "ticks": false, "tickSize": 0,
            "domainColor": "#808080", "domainWidth": 1.5,
            "labelExpr": "datum.index == 0 || datum.index == 1 ? format(datum.value, '.2f') : ''",
            "labelFlush": true, "labelOverlap": false, "labelBound": false, "labelPadding": 3,
            "labelFont": "Liberation Sans", "labelFontSize": 7.5, "labelFontWeight": "bold", "labelColor": "#111111",
            "title": "[ % ]", "titleX": -19, "titleY": 100, "titleAngle": -90, "titleAlign": "center", "titleBaseline": "middle",
            "titleFont": "Liberation Sans", "titleFontSize": 9.5, "titleFontWeight": "bold", "titleColor": "#111111"
          }
        },
        "color": {"field": "series", "type": "nominal", "scale": {"domain": ["Potencia activa referencia", "Potencia activa medida", "Potencia reactiva referencia", "Potencia reactiva medida", "SoC bateria", "SoC ultracaps"], "range": ["#16a045", "#80cf4c", "#1d6cc2", "#1aa8ea", "#ee1d23", "#fdb62c"]}, "legend": null}
      },
      "mark": {"type": "line", "strokeWidth": 2}
    }
  ]
}
